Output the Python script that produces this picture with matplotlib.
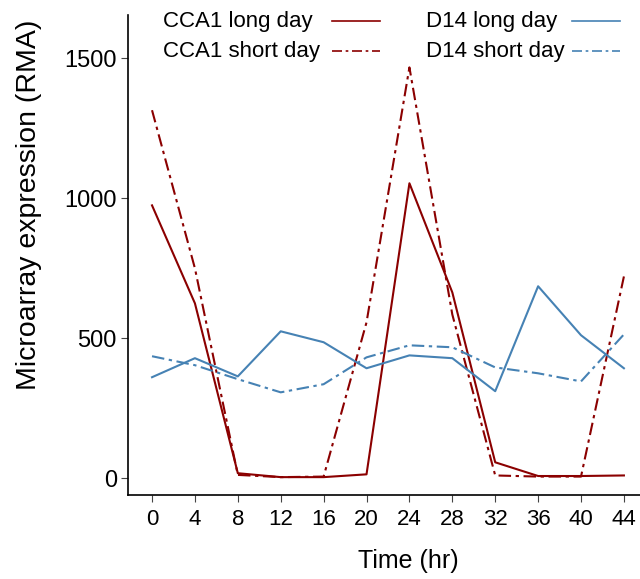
import matplotlib.pyplot as plt
from matplotlib.lines import Line2D

plt.rcParams['font.family'] = ['Liberation Sans', 'DejaVu Sans']

# 时间点 (hr)
time_hr = [0, 4, 8, 12, 16, 20, 24, 28, 32, 36, 40, 44]

# 表达量 (RMA)
cca1_long = [975, 625, 18, 4, 4, 14, 1054, 664, 57, 8, 8, 10]
cca1_short = [1315, 750, 12, 4, 6, 557, 1468, 585, 10, 6, 6, 721]
d14_long = [361, 429, 364, 525, 486, 393, 439, 429, 311, 686, 511, 393]
d14_short = [436, 404, 354, 307, 336, 432, 475, 468, 396, 375, 346, 514]

RED = '#8B0000'
BLUE = '#4682B4'
DOTDASH = (0, (6, 2.2, 1.6, 2.2))

fig = plt.figure(figsize=(6.4, 5.79), dpi=100)
ax = fig.add_axes([0.2, 0.145, 0.8, 0.829])

series = [
    (cca1_long, RED, '-', 'CCA1 long day'),
    (cca1_short, RED, DOTDASH, 'CCA1 short day'),
    (d14_long, BLUE, '-', 'D14 long day'),
    (d14_short, BLUE, DOTDASH, 'D14 short day'),
]
for vals, c, ls, lab in series:
    ax.plot(time_hr, vals, color=c, lw=1.5, linestyle=ls, label=lab)

ax.set_xlim(-2.24, 45.5)
ax.set_ylim(-60, 1655)
ax.set_xticks(time_hr)
ax.set_yticks([0, 500, 1000, 1500])
ax.tick_params(length=5, width=0.8, color='#444444')
ax.tick_params(axis='x', labelsize=16, pad=5)
ax.tick_params(axis='y', labelsize=17, pad=3)

for s in ['top', 'right']:
    ax.spines[s].set_visible(False)
for s in ['left', 'bottom']:
    ax.spines[s].set_linewidth(1.2)

ax.set_xlabel('Time (hr)', fontsize=18)
ax.set_ylabel('Microarray expression (RMA)', fontsize=20.5)
ax.xaxis.set_label_coords(0.547, -0.112)
ax.yaxis.set_label_coords(-0.168, 0.604)

# 图例：文字在左，线段在右（左对齐）
legend_pos = [
    (163, 21, 332), (163, 51, 332),
    (426, 21, 572), (426, 51, 572),
]
W, H = 640.0, 579.0
for (vals, c, ls, lab), (tx, ty, hx) in zip(series, legend_pos):
    fig.text(tx / W, 1 - ty / H, lab, fontsize=16, ha='left', va='center')
    fig.add_artist(Line2D([hx / W, (hx + 48) / W], [1 - ty / H, 1 - ty / H],
                          color=c, lw=1.2, linestyle=ls, transform=fig.transFigure))

fig.savefig('out.png', dpi=100)
